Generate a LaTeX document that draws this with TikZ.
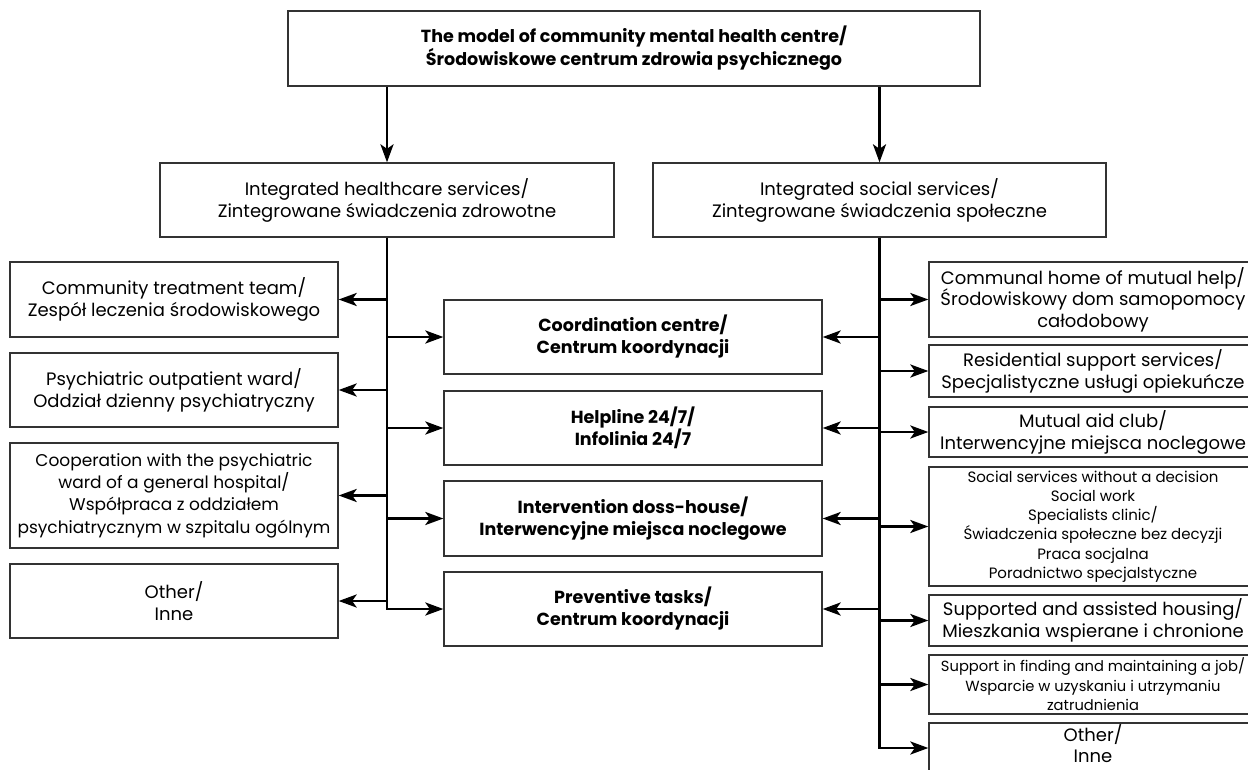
\documentclass[tikz,border=0pt]{standalone}
\usepackage{fontspec}
\setmainfont{Poppins}
\usetikzlibrary{arrows.meta}
\tikzset{
  box/.style={draw=black!80, line width=1.3pt, fill=white, inner sep=0pt, align=center,
    font=\fontsize{18}{22}\selectfont},
  boldbox/.style={box, font=\fontsize{17.5}{22}\selectfont\bfseries},
  conn/.style={line width=2.8pt, -{Stealth[length=18pt,width=13pt,inset=4.5pt]}},
  line/.style={line width=2.8pt},
}
\begin{document}
\begin{tikzpicture}[x=1pt,y=-1pt]
\useasboundingbox (0,0) rectangle (1248,770);
\fill[white] (0,0) rectangle (1248,770);
\clip (0,0) rectangle (1248,770);

\node[boldbox, minimum width=692pt, minimum height=75pt, font=\fontsize{17.5}{23}\selectfont\bfseries] (top) at (634,48.5)
  {The model of community mental health centre/\\Środowiskowe centrum zdrowia psychicznego};
\node[box, minimum width=454pt, minimum height=74pt] (hc) at (387,200)
  {Integrated healthcare services/\\Zintegrowane świadczenia zdrowotne};
\node[box, minimum width=453pt, minimum height=74pt] (sc) at (879.5,200)
  {Integrated social services/\\Zintegrowane świadczenia społeczne};

% left column
\node[box, minimum width=328pt, minimum height=75pt] (L1) at (174,299.5)
  {Community treatment team/\\Zespół leczenia środowiskowego};
\node[box, minimum width=328pt, minimum height=74pt] (L2) at (174,390)
  {Psychiatric outpatient ward/\\Oddział dzienny psychiatryczny};
\node[box, minimum width=328pt, minimum height=105pt, font=\fontsize{17}{22.3}\selectfont] (L3) at (174,495.5)
  {Cooperation with the psychiatric\\ward of a general hospital/\\Współpraca z oddziałem\\psychiatrycznym w szpitalu ogólnym};
\node[box, minimum width=328pt, minimum height=74pt] (L4) at (174,601)
  {Other/\\Inne};

% middle column
\node[boldbox, minimum width=378pt, minimum height=74pt] (M1) at (633,337)
  {Coordination centre/\\Centrum koordynacji};
\node[boldbox, minimum width=378pt, minimum height=74pt] (M2) at (633,428)
  {Helpline 24/7/\\Infolinia 24/7};
\node[boldbox, minimum width=378pt, minimum height=75pt] (M3) at (633,518.5)
  {Intervention doss-house/\\Interwencyjne miejsca noclegowe};
\node[boldbox, minimum width=378pt, minimum height=74pt] (M4) at (633,609)
  {Preventive tasks/\\Centrum koordynacji};

% right column
\node[box, minimum width=328pt, minimum height=75pt, font=\fontsize{18}{21.5}\selectfont] (R1) at (1093,299.5)
  {Communal home of mutual help/\\Środowiskowy dom samopomocy\\całodobowy};
\node[box, minimum width=328pt, minimum height=52pt] (R2) at (1093,371)
  {Residential support services/\\Specjalistyczne usługi opiekuńcze};
\node[box, minimum width=328pt, minimum height=50pt] (R3) at (1093,432)
  {Mutual aid club/\\Interwencyjne miejsca noclegowe};
\node[box, minimum width=328pt, minimum height=119pt, font=\fontsize{15}{19.2}\selectfont] (R4) at (1093,526.5)
  {Social services without a decision\\Social work\\Specialists clinic/\\Świadczenia społeczne bez decyzji\\Praca socjalna\\Poradnictwo specjalstyczne};
\node[box, minimum width=328pt, minimum height=51pt] (R5) at (1093,620.5)
  {Supported and assisted housing/\\Mieszkania wspierane i chronione};
\node[box, minimum width=328pt, minimum height=59pt, font=\fontsize{14.7}{19.5}\selectfont] (R6) at (1093,684.5)
  {Support in finding and maintaining a job/\\Wsparcie w uzyskaniu i utrzymaniu\\zatrudnienia};
\node[box, minimum width=328pt, minimum height=50pt,
  label={[font=\fontsize{18}{21}\selectfont, align=center, yshift=4pt]center:Other/\\Inne}] (R7) at (1093,748) {};

% top arrows
\draw[conn] (top.south -| hc.north) -- (hc.north);
\draw[conn] (top.south -| sc.north) -- (sc.north);

% left trunk
\draw[line] (hc.south) -- (hc.south |- M4.west);
\foreach \n in {L1,L2,L3,L4} \draw[conn] (hc.south |- \n.east) -- (\n.east);
\foreach \n in {M1,M2,M3} \draw[conn] (hc.south |- \n.west) -- (\n.west);
\draw[conn] (hc.south) |- (M4.west);

% right trunk
\draw[line] (sc.south) -- (sc.south |- R7.west);
\foreach \n in {M1,M2,M3,M4} \draw[conn] (sc.south |- \n.east) -- (\n.east);
\foreach \n in {R1,R2,R3,R4,R5,R6} \draw[conn] (sc.south |- \n.west) -- (\n.west);
\draw[conn] (sc.south) |- (R7.west);
\end{tikzpicture}
\end{document}
